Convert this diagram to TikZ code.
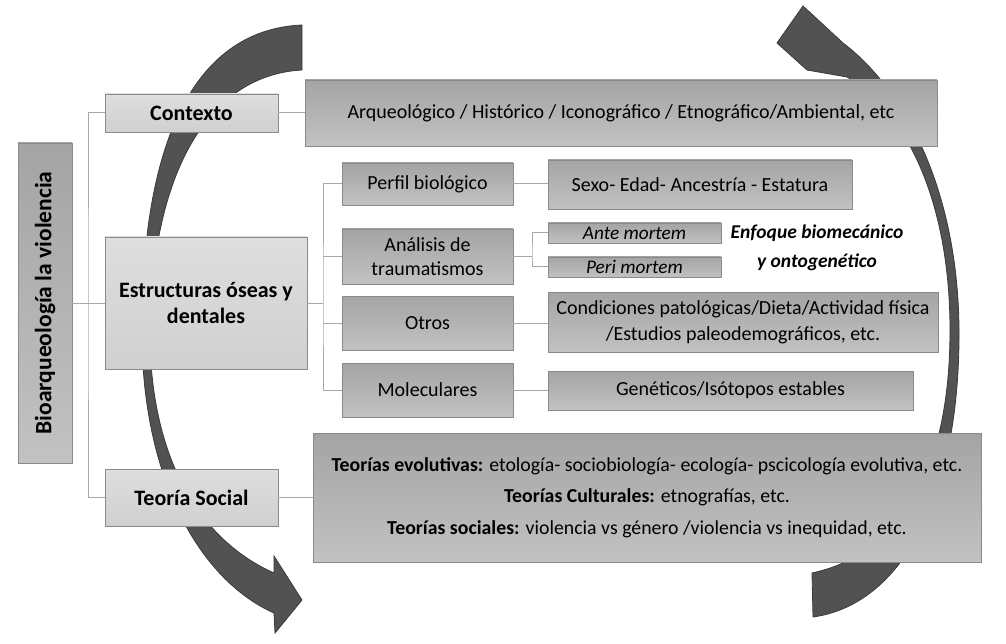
\documentclass[tikz,border=0pt]{standalone}
\usepackage{fontspec}
\setmainfont{Carlito}
\usetikzlibrary{calc}
\definecolor{linec}{HTML}{A8A8A8}
\definecolor{boxdraw}{HTML}{8A8A8A}
\definecolor{lighttop}{HTML}{DEDEDE}
\definecolor{lightbot}{HTML}{D0D0D0}
\definecolor{midtop}{HTML}{A4A4A4}
\definecolor{midbot}{HTML}{C2C2C2}
\definecolor{arrowfillc}{HTML}{525252}
\definecolor{arrowdrawc}{HTML}{3A3A3A}
\tikzset{
  conn/.style={draw=linec, line width=1pt},
  lightbox/.style={draw=boxdraw, line width=0.8pt, top color=lighttop, bottom color=lightbot, inner sep=2pt, align=center,
     font=\fontsize{22}{26}\selectfont\bfseries},
  midbox/.style={draw=boxdraw, line width=0.8pt, top color=midtop, bottom color=midbot, inner sep=2pt, align=center,
     font=\fontsize{20}{23.5}\selectfont},
  bigarrow/.style={fill=arrowfillc, draw=arrowdrawc, line width=0.8pt},
}
\begin{document}
\begin{tikzpicture}[x=1pt,y=-1pt]
\useasboundingbox (0,0) rectangle (1006,644);

% big curved arrows (behind)
\path[bigarrow] (302,25) .. controls (190,30) and (140,150) .. (142,340)
  .. controls (144,480) and (200,580) .. (274,613)
  -- (275,633) -- (302,600) -- (274,556) -- (274,573)
  .. controls (200,540) and (152,460) .. (150,340)
  .. controls (150,170) and (210,75) .. (302,70) -- cycle;
\path[bigarrow] (813,617) .. controls (900,605) and (960,500) .. (959,330)
  .. controls (958,190) and (905,90) .. (843,43)
  -- (803,6) -- (777,43) -- (807,70) -- (847,77)
  .. controls (905,110) and (950,200) .. (950,330)
  .. controls (950,480) and (895,555) .. (812,573) -- cycle;

% level 0
\node[midbox, minimum width=320pt, minimum height=54pt, rotate=90,
      font=\fontsize{23.5}{27}\selectfont\bfseries] (bio) at (45,303) {Bioarqueología la violencia};

% level 1
\node[lightbox, minimum width=173pt, minimum height=38pt] (ctx) at (191.5,113) {Contexto};
\node[lightbox, minimum width=202pt, minimum height=132pt] (est) at (206,303) {Estructuras óseas y\\dentales};
\node[lightbox, minimum width=173pt, minimum height=57pt] (ts) at (191.5,497.5) {Teoría Social};

% right of level 1
\node[midbox, minimum width=632pt, minimum height=66pt] (arq) at (621,113)
  {Arqueológico / Histórico / Iconográfico / Etnográfico/Ambiental, etc};
\node[midbox, minimum width=668pt, minimum height=129pt, font=\fontsize{19.8}{31.5}\selectfont] (teo) at (647,497.5)
  {\textbf{Teorías evolutivas:} etología- sociobiología- ecología- pscicología evolutiva, etc.\\
   \textbf{Teorías Culturales:} etnografías, etc.\\
   \textbf{Teorías sociales:} violencia vs género /violencia vs inequidad, etc.};

% level 2
\node[midbox, minimum width=171pt, minimum height=42pt] (perfil) at (427.5,184) {Perfil biológico};
\node[midbox, minimum width=171pt, minimum height=55pt] (anal) at (427.5,256.5) {Análisis de\\traumatismos};
\node[midbox, minimum width=171pt, minimum height=54pt] (otros) at (427.5,323) {Otros};
\node[midbox, minimum width=171pt, minimum height=54pt] (mol) at (427.5,390) {Moleculares};

% level 3
\node[midbox, minimum width=304pt, minimum height=49pt] (sexo) at (700,184.5) {Sexo- Edad- Ancestría - Estatura};
\node[midbox, minimum width=173pt, minimum height=20pt, inner sep=0pt, font=\fontsize{19.3}{20}\selectfont\itshape] (ante) at (634.5,233) {Ante mortem};
\node[midbox, minimum width=173pt, minimum height=20pt, inner sep=0pt, font=\fontsize{19.3}{20}\selectfont\itshape] (peri) at (634.5,267) {Peri mortem};
\node[midbox, minimum width=390pt, minimum height=60pt, font=\fontsize{20}{26}\selectfont] (cond) at (743,322)
  {Condiciones patológicas/Dieta/Actividad física\\/Estudios paleodemográficos, etc.};
\node[midbox, minimum width=365pt, minimum height=39pt] (gen) at (730.5,390.5) {Genéticos/Isótopos estables};

\node[align=center, font=\fontsize{19.5}{29}\selectfont\bfseries\itshape] (enf) at (817,248)
  {Enfoque biomecánico\\y ontogenético};

% connectors
\coordinate (trunk) at (88,303);
\draw[conn] (bio.south) -- (est.west);
\draw[conn] (ctx.west) -| (trunk) |- (ts.west);
\draw[conn] (ctx.east) -- (arq.west);
\draw[conn] (ts.east) -- (teo.west);

\coordinate (b2) at (323,303);
\draw[conn] (est.east) -- (b2);
\draw[conn] (perfil.west) -| (b2) |- (mol.west);
\draw[conn] (anal.west) -- (anal.west -| b2);
\draw[conn] (otros.west) -- (otros.west -| b2);

\draw[conn] (perfil.east) -- (perfil.east -| sexo.west);
\coordinate (b3) at (532,256.5);
\draw[conn] (anal.east) -- (b3);
\draw[conn] (ante.west) -| (b3) |- (peri.west);
\draw[conn] (otros.east) -- (otros.east -| cond.west);
\draw[conn] (mol.east) -- (mol.east -| gen.west);
\end{tikzpicture}
\end{document}
